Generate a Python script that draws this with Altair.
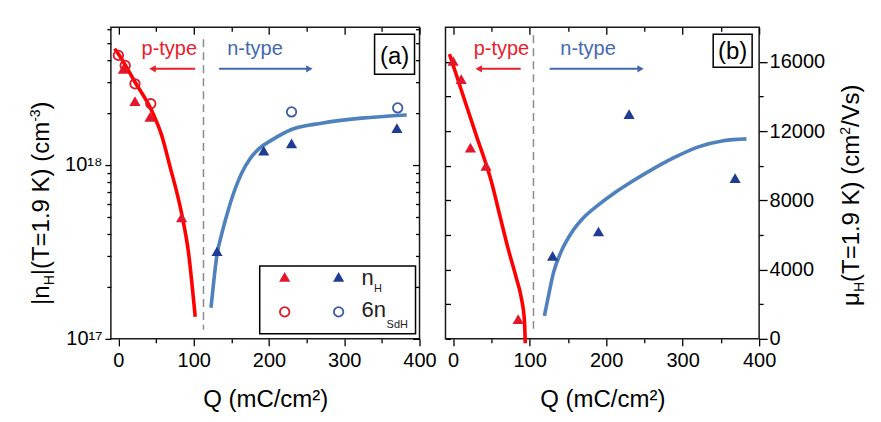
import altair as alt
import pandas as pd

FONT = "Liberation Sans"
RED_LINE = "#ff0000"
RED_PT = "#e3172c"
RED_TXT = "#e8202c"
BLUE_LINE = "#4f81bd"
BLUE_PT = "#1f3c94"
BLUE_OPEN = "#3d5ba8"
BLUE_TXT = "#4468b0"

# ---------------- panel (a): |n_H| vs Q ----------------
a_pH_q = [6.6, 22, 42, 84]                       # p-type, n_H (red triangles)
a_pH_n = [3.57e18, 2.33e18, 1.89e18, 5.0e17]
a_pS_q = [0, 9, 22, 43]                          # p-type, 6 n_SdH (red circles)
a_pS_n = [4.27e18, 3.74e18, 2.93e18, 2.25e18]
a_nH_q = [131, 193, 230, 370]                    # n-type, n_H (blue triangles)
a_nH_n = [3.19e17, 1.21e18, 1.33e18, 1.63e18]
a_nS_q = [230, 371]                              # n-type, 6 n_SdH (blue circles)
a_nS_n = [2.02e18, 2.13e18]
a_fitp_q = [-5, 0, 22, 45, 57.5, 68, 84, 93, 102]
a_fitp_n = [4.66e18, 4.35e18, 3.0e18, 2.02e18, 1.48e18, 1.0e18, 5.25e17, 3.16e17, 1.34e17]
a_fitn_q = [123, 126.6, 130.5, 137.2, 145.2, 154.5, 163.8, 174.4, 187.6, 203.5, 230, 270, 323, 383]
a_fitn_n = [1.51e17, 2.13e17, 2.96e17, 4.01e17, 5.37e17, 7.18e17, 9.0e17, 1.08e18, 1.25e18,
            1.39e18, 1.60e18, 1.74e18, 1.86e18, 1.94e18]
a_divide_q = [113]

# ---------------- panel (b): mu_H vs Q ----------------
b_pH_q = [0, 10.5, 22.6, 43, 85]
b_pH_mu = [16050, 15000, 11050, 9990, 1140]
b_nH_q = [130, 190, 230, 368.6]
b_nH_mu = [4790, 6200, 12980, 9280]
b_fitp_q = [-4.8, 10, 30, 49.7, 62.7, 71.5, 82.4, 89, 93.2, 94.3]
b_fitp_mu = [16445, 14460, 11780, 9130, 6820, 5270, 3540, 2390, 1040, -250]
b_fitn_q = [119.3, 124.6, 131.1, 141.6, 154.6, 171.6, 189.9, 210.8, 233.1, 259.2, 288, 320.7, 353.3, 383.4]
b_fitn_mu = [1330, 2480, 3810, 5080, 6120, 7050, 7740, 8430, 9070, 9760, 10450, 11090, 11440, 11550]
b_divide_q = [105]

# tick values
x_major = [0, 100, 200, 300, 400]
x_minor = [50, 150, 250, 350]
ya_major = [1e17, 1e18]
ya_minor = [2e17, 3e17, 4e17, 5e17, 6e17, 7e17, 8e17, 9e17, 2e18, 3e18, 4e18, 5e18, 6e18]
yb_major = [0, 4000, 8000, 12000, 16000]
yb_minor = [2000, 6000, 10000, 14000]
yb_all = [0, 2000, 4000, 6000, 8000, 10000, 12000, 14000, 16000]

# axis-title pieces (text, is_small, shift)
title_a = [("|n", False, 0), ("H", True, 5), ("|(T=1.9 K) (cm", False, 0), ("-3", True, -9), (")", False, 0)]
title_b = [("μ", False, 0), ("H", True, 5), ("(T=1.9 K) (cm", False, 0), ("2", True, -9), ("/Vs)", False, 0)]

WA, WB, H = 309, 314, 312

# Arial / Liberation Sans advance widths (em)
CW = {"|": 0.26, "n": 0.556, "H": 0.722, "(": 0.333, ")": 0.333, "T": 0.611, "=": 0.584,
      "1": 0.556, ".": 0.278, "9": 0.556, " ": 0.278, "K": 0.667, "c": 0.5, "m": 0.833,
      "-": 0.333, "3": 0.556, "2": 0.556, "/": 0.278, "V": 0.667, "s": 0.5, "μ": 0.576}


def xscale():
    return alt.Scale(domain=[-10, 400], nice=False, zero=False)


def ya_scale():
    return alt.Scale(type="log", domain=[1e17, 6.2e18], nice=False)


def yb_scale():
    return alt.Scale(domain=[0, 18000], nice=False, zero=False)


ONE = pd.DataFrame({"k": [0]})


def pts(qs, vs, ysc, shape, color, filled, size):
    df = pd.DataFrame({"Q": qs, "v": vs})
    return alt.Chart(df).mark_point(
        shape=shape, filled=filled, color=color, size=size, opacity=1, strokeWidth=1.8
    ).encode(
        x=alt.X("Q:Q", scale=xscale(), axis=None),
        y=alt.Y("v:Q", scale=ysc, axis=None),
    )


def fit(qs, vs, ysc, color):
    df = pd.DataFrame({"Q": qs, "v": vs})
    return alt.Chart(df).mark_line(
        color=color, strokeWidth=3.6, interpolate="monotone", clip=False
    ).encode(
        x=alt.X("Q:Q", scale=xscale(), axis=None),
        y=alt.Y("v:Q", scale=ysc, axis=None),
    )


def divider(qs, y1, y2):
    df = pd.DataFrame({"Q": qs})
    return alt.Chart(df).mark_rule(
        color="#8c8c8c", strokeWidth=1.5, strokeDash=[8, 5]
    ).encode(
        x=alt.X("Q:Q", scale=xscale(), axis=None),
        y=alt.value(y1), y2=alt.value(y2),
    )


def label(text, x, y, color, size, align="center"):
    return alt.Chart(ONE).mark_text(
        text=text, font=FONT, fontSize=size, color=color, align=align, baseline="alphabetic"
    ).encode(x=alt.value(x), y=alt.value(y))


def rot_title(pieces, x, y0, big=24, small=14):
    out = []
    y = y0
    for text, is_small, shift in pieces:
        fs = small if is_small else big
        out.append(alt.Chart(ONE).mark_text(
            text=text, font=FONT, fontSize=fs, color="black", angle=270,
            align="left", baseline="alphabetic", dy=shift
        ).encode(x=alt.value(x), y=alt.value(y)))
        y -= sum(CW.get(c, 0.556) for c in text) * fs
    return out


def arrow(x_tail, x_tip, y, color, direction):
    shaft = alt.Chart(ONE).mark_rule(color=color, strokeWidth=2).encode(
        x=alt.value(x_tail), x2=alt.value(x_tip + (5 if direction == "left" else -5)), y=alt.value(y)
    )
    head = alt.Chart(ONE).mark_point(
        shape="triangle-" + direction, filled=True, color=color, size=55, opacity=1
    ).encode(x=alt.value(x_tip + (4 if direction == "left" else -4)), y=alt.value(y))
    return [shaft, head]


def box(x1, x2, y1, y2):
    return alt.Chart(ONE).mark_rect(fill="white", stroke="black", strokeWidth=1.5).encode(
        x=alt.value(x1), x2=alt.value(x2), y=alt.value(y1), y2=alt.value(y2)
    )


AX = dict(domain=False, grid=False, tickColor="black", tickWidth=1.3,
          labelFont=FONT, labelFontSize=20, labelColor="black",
          titleFont=FONT, titleColor="black", titleFontWeight="normal")


def axis_layer(ysc, yval, xaxis, yaxis):
    df = pd.DataFrame({"Q": [100], "v": [yval]})
    return alt.Chart(df).mark_point(opacity=0).encode(
        x=alt.X("Q:Q", scale=xscale(), axis=xaxis),
        y=alt.Y("v:Q", scale=ysc, axis=yaxis),
    )


def bottom_major(width):
    return alt.Axis(orient="bottom", values=x_major, tickSize=7, labelPadding=5,
                    labelFlush=False, labelOverlap=False,
                    title="Q (mC/cm²)", titleFontSize=24, titleX=width / 2, titleY=61,
                    titleBaseline="middle", titleAlign="center", **AX)


def bottom_minor():
    return alt.Axis(orient="bottom", values=x_minor, tickSize=4, labels=False, title=None, **AX)


def top_major():
    return alt.Axis(orient="top", values=x_major, tickSize=7, offset=-7, labels=False, title=None, **AX)


def top_minor():
    return alt.Axis(orient="top", values=x_minor, tickSize=4, offset=-4, labels=False, title=None, **AX)


TRI = 125
CIRC = 90

# ---------------- build panel (a) ----------------
a_axes = [
    axis_layer(ya_scale(), 1e18, bottom_major(WA),
               alt.Axis(orient="left", values=ya_major, tickSize=6, labelPadding=3,
                        labelExpr="datum.value < 3e17 ? '10¹⁷' : '10¹⁸'", title=None, **AX)),
    axis_layer(ya_scale(), 1e18, bottom_minor(),
               alt.Axis(orient="left", values=ya_minor, tickSize=4, labels=False, title=None, **AX)),
    axis_layer(ya_scale(), 1e18, top_major(),
               alt.Axis(orient="right", values=ya_major, tickSize=7, offset=-7, labels=False, title=None, **AX)),
    axis_layer(ya_scale(), 1e18, top_minor(),
               alt.Axis(orient="right", values=ya_minor, tickSize=4, offset=-4, labels=False, title=None, **AX)),
]

a_layers = a_axes + rot_title(title_a, -62, 278) + [
    divider(a_divide_q, 12, 303),
    fit(a_fitp_q, a_fitp_n, ya_scale(), RED_LINE),
    fit(a_fitn_q, a_fitn_n, ya_scale(), BLUE_LINE),
    pts(a_pS_q, a_pS_n, ya_scale(), "circle", RED_PT, False, CIRC),
    pts(a_pH_q, a_pH_n, ya_scale(), "triangle-up", RED_PT, True, TRI),
    pts(a_nS_q, a_nS_n, ya_scale(), "circle", BLUE_OPEN, False, CIRC),
    pts(a_nH_q, a_nH_n, ya_scale(), "triangle-up", BLUE_PT, True, TRI),
    label("p-type", 58.5, 28, RED_TXT, 20),
    label("n-type", 144.3, 28, BLUE_TXT, 20),
    *arrow(84.3, 37.7, 41.7, RED_TXT, "left"),
    *arrow(108.3, 202.7, 41.7, BLUE_TXT, "right"),
    box(264, 304, 7, 47),
    label("(a)", 284, 36.5, "black", 24),
    # legend
    box(149, 305, 239, 307),
    alt.Chart(ONE).mark_point(shape="triangle-up", filled=True, color=RED_PT, size=TRI, opacity=1).encode(
        x=alt.value(174), y=alt.value(250)),
    alt.Chart(ONE).mark_point(shape="triangle-up", filled=True, color=BLUE_PT, size=TRI, opacity=1).encode(
        x=alt.value(228), y=alt.value(250)),
    alt.Chart(ONE).mark_point(shape="circle", filled=False, color=RED_PT, size=CIRC, opacity=1, strokeWidth=1.8).encode(
        x=alt.value(174), y=alt.value(285)),
    alt.Chart(ONE).mark_point(shape="circle", filled=False, color=BLUE_OPEN, size=CIRC, opacity=1, strokeWidth=1.8).encode(
        x=alt.value(228), y=alt.value(285)),
    label("n", 251, 258, "#222222", 22, "left"),
    label("H", 263.5, 265, "#222222", 11, "left"),
    label("6n", 251, 290, "#222222", 22, "left"),
    label("SdH", 276, 301, "#222222", 11, "left"),
]

panel_a = alt.layer(*a_layers).resolve_scale(x="independent", y="independent").properties(
    width=WA, height=H)

# ---------------- build panel (b) ----------------
b_axes = [
    axis_layer(yb_scale(), 8000, bottom_major(WB),
               alt.Axis(orient="right", values=yb_major, tickSize=8, labelPadding=2, format="d",
                        labelFlush=False, labelOverlap=False, title=None, **AX)),
    axis_layer(yb_scale(), 8000, bottom_minor(),
               alt.Axis(orient="right", values=yb_minor, tickSize=4, labels=False, title=None, **AX)),
    axis_layer(yb_scale(), 8000, top_major(),
               alt.Axis(orient="left", values=yb_all, tickSize=5, offset=-5, labels=False, title=None, **AX)),
    axis_layer(yb_scale(), 8000, top_minor(), None),
]

b_layers = b_axes + rot_title(title_b, 414, 279) + [
    divider(b_divide_q, 8, 302),
    fit(b_fitp_q, b_fitp_mu, yb_scale(), RED_LINE),
    fit(b_fitn_q, b_fitn_mu, yb_scale(), BLUE_LINE),
    pts(b_pH_q, b_pH_mu, yb_scale(), "triangle-up", RED_PT, True, TRI),
    pts(b_nH_q, b_nH_mu, yb_scale(), "triangle-up", BLUE_PT, True, TRI),
    label("p-type", 56, 28, RED_TXT, 20),
    label("n-type", 142.7, 28, BLUE_TXT, 20),
    *arrow(75.3, 29.3, 41.7, RED_TXT, "left"),
    *arrow(104.3, 199.3, 41.7, BLUE_TXT, "right"),
    box(268, 307, 7, 40),
    label("(b)", 287.5, 32, "black", 24),
]

panel_b = alt.layer(*b_layers).resolve_scale(x="independent", y="independent").properties(
    width=WB, height=H)

chart = alt.hconcat(panel_a, panel_b, spacing=26, bounds="flush").properties(
    autosize=alt.AutoSizeParams(type="pad"),
    padding={"left": 20, "top": 17, "right": 5, "bottom": 5},
).configure(font=FONT).configure_view(stroke="#1a1a1a", strokeWidth=1.5)

chart.save("out.html", embed_options={"renderer": "svg", "actions": False})
